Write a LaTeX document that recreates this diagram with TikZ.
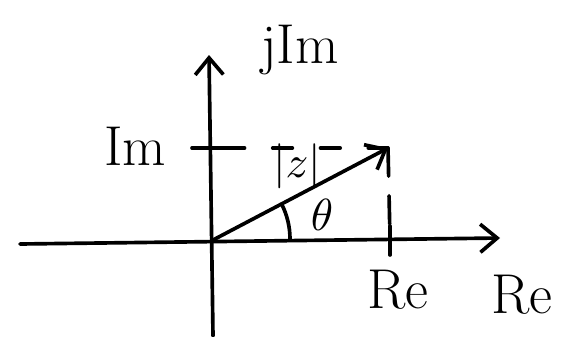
\documentclass[tikz,border=0pt]{standalone}
\usetikzlibrary{arrows.meta}
\begin{document}
\begin{tikzpicture}[x=0.25mm, y=0.25mm, line cap=round, line join=round,
    every node/.style={font=\fontsize{40}{44}\selectfont},
    mathlbl/.style={font=\normalsize, scale=3.2},
    stroke/.style={line width=2.6pt},
    barb/.style={-{Straight Barb[length=12pt,width=20pt,line width=2.6pt]}}]
  \useasboundingbox (0,0) rectangle (567,336);

  % axes
  \coordinate (O) at (213,96);
  \coordinate (ReL) at (20,92);
  \coordinate (ReR) at (500,98);
  \coordinate (ImB) at (213,0);
  \coordinate (ImT) at (209,281);
  \draw[stroke, barb] (ReL) -- (ReR);
  \draw[stroke, barb] (ImB) -- (ImT);

  % vector and its projections
  \coordinate (Z) at (388,188);
  \coordinate (Zre) at (390,97);
  \coordinate (Zim) at (211,188);
  \draw[stroke, barb] (O) -- (Z);
  \draw[stroke, dash pattern=on 20pt off 14pt] (Z) -- (Zre);
  \draw[stroke, dash pattern=on 14pt off 20pt] (Z) -- (Zim);

  % ticks
  \draw[stroke] (390,81) -- (390,110);
  \draw[stroke] (192,188) -- (240,188);

  % angle
  \draw[stroke] (290,97) arc[start angle=0, end angle=27, radius=77];
  \node[mathlbl] (theta) at (322,121) {$\theta$};

  % labels
  \node (imL) at (135,190) {Im};
  \node (reB) at (398,46) {Re};
  \node (reA) at (522,41) {Re};
  \node (imA) at (300,286) {jIm};
  \node[mathlbl] (abs) at (297,170) {$|z|$};
\end{tikzpicture}
\end{document}
